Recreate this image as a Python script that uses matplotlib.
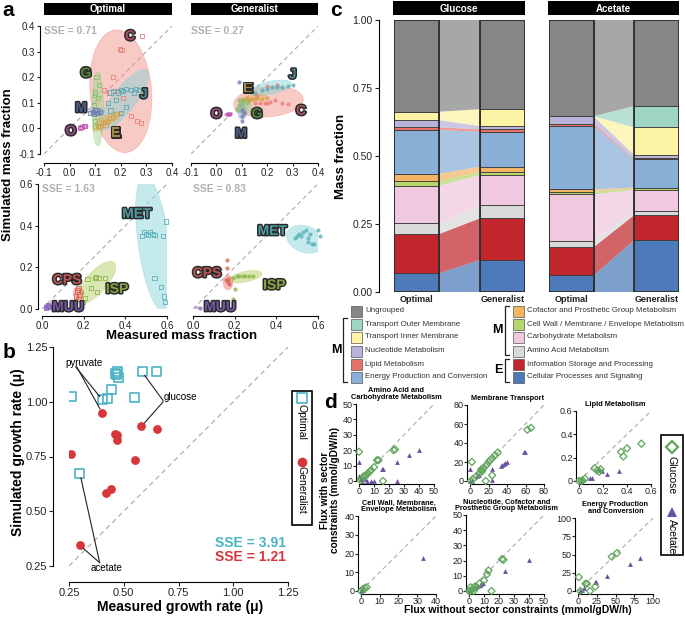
import matplotlib
matplotlib.use('Agg')
import matplotlib.pyplot as plt
import matplotlib.patheffects as pe
from matplotlib.patches import Ellipse, Rectangle, Polygon
from matplotlib.ticker import FormatStrFormatter, FuncFormatter

plt.rcParams['font.family'] = ['Liberation Sans', 'DejaVu Sans']
plt.rcParams['axes.linewidth'] = 0.8
plt.rcParams['xtick.major.width'] = 0.8
plt.rcParams['ytick.major.width'] = 0.8
plt.rcParams['xtick.color'] = '#222222'
plt.rcParams['ytick.color'] = '#222222'

# ---------------- data ----------------
# panel a: sector mass fractions (measured, simulated) per group
a_opt_top = {
    'C': ([0.283, 0.197, 0.203, 0.17, 0.134, 0.155, 0.185, 0.24, 0.262, 0.28, 0.21],
          [0.361, 0.31, 0.305, 0.2, 0.15, 0.14, 0.145, 0.048, 0.03, 0.02, 0.12]),
    'J': ([0.16, 0.17, 0.19, 0.2, 0.21, 0.22, 0.24, 0.26, 0.27, 0.15, 0.18, 0.2, 0.22, 0.16, 0.25],
          [0.14, 0.145, 0.14, 0.15, 0.145, 0.155, 0.15, 0.155, 0.15, 0.1, 0.11, 0.06, 0.085, 0.07, 0.14]),
    'G': ([0.105, 0.1, 0.1, 0.11, 0.09, 0.1, 0.1, 0.115, 0.095],
          [0.2, 0.14, 0.13, 0.12, 0.06, 0.03, 0.01, 0.17, 0.09]),
    'M': ([0.08, 0.09, 0.1, 0.11, 0.12, 0.095, 0.105],
          [0.06, 0.065, 0.07, 0.06, 0.065, 0.055, 0.07]),
    'E': ([0.1, 0.11, 0.12, 0.13, 0.14, 0.15, 0.16, 0.17, 0.18, 0.12, 0.14],
          [0.0, 0.01, 0.01, 0.02, 0.025, 0.03, 0.04, 0.045, 0.055, 0.005, 0.015]),
    'O': ([0.04, 0.045, 0.05, 0.055, 0.06], [0.0, 0.005, 0.005, 0.01, 0.01]),
}
a_gen_top = {
    'C': ([0.13, 0.15, 0.17, 0.19, 0.2, 0.21, 0.23, 0.26, 0.28, 0.16, 0.2, 0.24],
          [0.11, 0.1, 0.1, 0.1, 0.1, 0.105, 0.11, 0.1, 0.095, 0.125, 0.165, 0.17]),
    'J': ([0.15, 0.2, 0.22, 0.24, 0.26, 0.28, 0.3, 0.18],
          [0.14, 0.155, 0.16, 0.16, 0.16, 0.165, 0.17, 0.15]),
    'E': ([0.1, 0.12, 0.14, 0.16, 0.18, 0.2, 0.13, 0.15],
          [0.11, 0.12, 0.115, 0.12, 0.115, 0.12, 0.11, 0.12]),
    'G': ([0.08, 0.09, 0.1, 0.11, 0.12, 0.1, 0.09],
          [0.07, 0.09, 0.1, 0.11, 0.1, 0.08, 0.11]),
    'M': ([0.1, 0.1, 0.11, 0.1, 0.09], [0.03, 0.05, 0.06, 0.07, 0.18]),
    'O': ([0.04, 0.045, 0.05, 0.055], [0.055, 0.055, 0.055, 0.055]),
}
a_opt_bot = {
    'MET': ([0.48, 0.49, 0.50, 0.51, 0.52, 0.53, 0.54, 0.58, 0.595, 0.54, 0.57, 0.585, 0.59],
            [0.35, 0.37, 0.36, 0.355, 0.37, 0.36, 0.355, 0.35, 0.42, 0.15, 0.105, 0.06, 0.035]),
    'ISP': ([0.218, 0.253, 0.261, 0.274, 0.301, 0.189, 0.237, 0.264, 0.205, 0.197],
            [0.143, 0.147, 0.155, 0.15, 0.147, 0.083, 0.102, 0.083, 0.054, 0.032]),
    'CPS': ([0.165, 0.17, 0.175, 0.18, 0.17, 0.175], [0.06, 0.08, 0.1, 0.07, 0.09, 0.05]),
    'MUU': ([0.02, 0.025, 0.03, 0.035, 0.03], [0.005, 0.01, 0.015, 0.01, 0.02]),
}
a_gen_bot = {
    'MET': ([0.49, 0.5, 0.51, 0.52, 0.53, 0.54, 0.55, 0.56, 0.57, 0.58, 0.6, 0.61, 0.55],
            [0.34, 0.35, 0.36, 0.35, 0.37, 0.38, 0.32, 0.36, 0.31, 0.31, 0.38, 0.35, 0.34]),
    'ISP': ([0.19, 0.21, 0.22, 0.24, 0.25, 0.27, 0.29, 0.2, 0.19],
            [0.15, 0.16, 0.16, 0.16, 0.16, 0.16, 0.16, 0.095, 0.048]),
    'CPS': ([0.165, 0.163, 0.16, 0.17, 0.175, 0.168], [0.235, 0.197, 0.14, 0.13, 0.12, 0.145]),
    'MUU': ([0.032], [0.003]),
}
# group ellipses (cx, cy, width, height, angle)
a_opt_top_ell = {'C': (0.2, 0.145, 0.24, 0.48, 5), 'J': (0.213, 0.112, 0.29, 0.09, 52),
                 'G': (0.11, 0.077, 0.046, 0.29, 0), 'M': (0.105, 0.065, 0.06, 0.03, 0),
                 'E': (0.152, 0.037, 0.115, 0.035, 24), 'O': (0.055, 0.008, 0.035, 0.012, 0)}
a_gen_top_ell = {'C': (0.205, 0.104, 0.275, 0.118, 5), 'J': (0.213, 0.159, 0.165, 0.05, 12),
                 'E': (0.142, 0.117, 0.115, 0.025, 8), 'G': (0.11, 0.084, 0.055, 0.06, 0),
                 'M': (0.102, 0.065, 0.035, 0.06, 0), 'O': (0.047, 0.054, 0.03, 0.012, 0)}
a_opt_bot_ell = {'MET': (0.537, 0.315, 0.15, 0.66, 8), 'ISP': (0.26, 0.127, 0.26, 0.1, 48),
                 'CPS': (0.173, 0.075, 0.045, 0.065, 0), 'MUU': (0.028, 0.012, 0.035, 0.03, 0)}
a_gen_bot_ell = {'MET': (0.538, 0.335, 0.184, 0.126, -20), 'ISP': (0.252, 0.155, 0.16, 0.05, 12),
                 'CPS': (0.168, 0.127, 0.045, 0.07, 0), 'MUU': (0.02, 0.005, 0.02, 0.012, 0)}
a_opt_top_lab = {'C': (0.236, 0.361), 'G': (0.064, 0.216), 'J': (0.29, 0.134),
                 'M': (0.045, 0.08), 'O': (0.005, -0.01), 'E': (0.18, -0.018)}
a_gen_top_lab = {'E': (0.125, 0.156), 'J': (0.3, 0.211), 'G': (0.16, 0.057),
                 'C': (0.333, 0.069), 'O': (0.0, 0.057), 'M': (0.097, -0.02)}
a_opt_bot_lab = {'MET': (0.455, 0.457), 'CPS': (0.12, 0.14), 'ISP': (0.36, 0.096), 'MUU': (0.125, 0.01)}
a_gen_bot_lab = {'MET': (0.38, 0.375), 'CPS': (0.067, 0.173), 'ISP': (0.39, 0.115), 'MUU': (0.13, 0.01)}
a_sse = ['SSE = 0.71', 'SSE = 0.27', 'SSE = 1.63', 'SSE = 0.83']

# group colours: point, ellipse, label fill, ellipse alpha
grp_col = {
    'C': ('#ec7f78', '#f08a82', '#b05060', 0.45), 'J': ('#5fa9b2', '#7fcfd5', '#4f8494', 0.45),
    'G': ('#84c06a', '#9ad48a', '#4f8a3c', 0.45), 'M': ('#6f7fb5', '#8a9ad0', '#4d5c8c', 0.45),
    'E': ('#d6a24a', '#e0b050', '#a58a45', 0.45), 'O': ('#c25cb0', '#c86ab8', '#9c4a82', 0.45),
    'MET': ('#5ab3bb', '#9fdce0', '#4e9ba2', 0.6), 'ISP': ('#8fb54a', '#c5dc8a', '#8aa53f', 0.65),
    'CPS': ('#e0605a', '#f08a85', '#c05555', 0.55), 'MUU': ('#8a68c0', '#a080d0', '#7558a5', 0.55),
}

# panel b: growth rates
b_meas_opt = [0.261, 0.403, 0.424, 0.444, 0.462, 0.471, 0.474, 0.466, 0.551, 0.584, 0.651, 0.30]
b_sim_opt = [1.025, 1.008, 1.017, 1.055, 1.128, 1.14, 1.113, 1.125, 1.019, 1.136, 1.136, 0.672]
b_meas_gen = [0.401, 0.581, 0.653, 0.46, 0.471, 0.469, 0.551, 0.261, 0.421, 0.441, 0.30]
b_sim_gen = [0.95, 0.888, 0.877, 0.855, 0.85, 0.824, 0.735, 0.76, 0.583, 0.602, 0.344]

# panel c: sector fractions, bottom to top
c_sectors = ['Cellular Processes and Signaling', 'Information Storage and Processing',
             'Amino Acid Metabolism', 'Carbohydrate Metabolism',
             'Cell Wall / Membrane / Envelope Metabolism', 'Cofactor and Prosthetic Group Metabolism',
             'Energy Production and Conversion', 'Lipid Metabolism', 'Nucleotide Metabolism',
             'Transport Inner Membrane', 'Transport Outer Membrane', 'Ungrouped']
c_colors = ['#4d7bb9', '#c1272d', '#d9d9d9', '#f0c8df', '#b6d56f', '#f3b463',
            '#8aafd6', '#e8726a', '#b9b3da', '#fcf3a4', '#9ed5c5', '#868686']
glc_opt = [0.069, 0.144, 0.039, 0.139, 0.017, 0.026, 0.162, 0.009, 0.027, 0.031, 0.0, 0.337]
glc_gen = [0.118, 0.153, 0.049, 0.110, 0.012, 0.019, 0.128, 0.009, 0.012, 0.062, 0.0, 0.328]
ace_opt = [0.061, 0.104, 0.021, 0.173, 0.010, 0.008, 0.233, 0.008, 0.028, 0.0, 0.0, 0.354]
ace_gen = [0.191, 0.092, 0.015, 0.077, 0.006, 0.003, 0.104, 0.003, 0.013, 0.101, 0.079, 0.316]

# panel d: flux without vs with sector constraints
d_titles = ['Amino Acid and\nCarbohydrate Metabolism', 'Membrane Transport', 'Lipid Metabolism',
            'Cell Wall, Membrane,\nEnvelope Metabolism', 'Nucleotide, Cofactor and\nProsthetic Group Metabolism',
            'Energy Production\nand Conversion']
d_max = [50, 80, 0.6, 40, 50, 100]
d_ticks = [[0, 10, 20, 30, 40, 50], [0, 20, 40, 60, 80], [0, 0.2, 0.4, 0.6],
           [0, 10, 20, 30, 40], [0, 10, 20, 30, 40, 50], [0, 25, 50, 75, 100]]
d_glc = [
    ([0, 23, 24, 12, 13, 10, 8, 6, 5, 3, 2, 1, 16, 4, 7],
     [19, 20, 20.5, 13.5, 13.5, 9, 7, 5, 4, 3, 1, 0.5, 0, 3, 6]),
    ([1, 3, 7, 10, 12, 14, 15, 13, 18, 20, 22, 24, 27, 30, 17, 24, 2, 62, 66],
     [0, 2, 5, 8, 12, 13, 14, 10, 17, 20, 22, 24, 27, 30, 0, 6, 20, 54, 56]),
    ([0, 0.02, 0.03, 0.05, 0.13, 0.15, 0.17, 0.18, 0.35, 0.37, 0.4, 0.52],
     [0, 0, 0.005, 0.02, 0.11, 0.09, 0.08, 0.1, 0.25, 0.21, 0.28, 0.32]),
    ([0, 1, 2, 3], [0, 1, 1.5, 2]),
    ([0, 1, 2, 3, 4, 5, 3, 7, 10, 12, 13, 22, 23, 15, 1],
     [0, 2.5, 1, 2, 3, 2.5, 0, 5, 7, 11, 13.5, 21, 20.5, 0, 0]),
    ([1, 3, 10, 12, 16, 23, 45, 52], [19, 0, 10, 10, 0, 6, 47, 52]),
]
d_ace = [
    ([0, 40, 33, 25, 16, 15, 25, 5, 3, 1, 2, 8, 10, 0, 4],
     [12.5, 20, 17, 12.5, 8, 7.5, 0, 0, 2, 1, 0, 0, 0, 3, 1]),
    ([0, 24, 24, 33, 35, 37, 38, 40, 58, 59, 8, 10, 2, 0],
     [13, 13, 1, 16, 17, 18, 19, 20, 31, 31, 5, 6, 0, 0]),
    ([0.09, 0.11, 0.17, 0.19, 0.23, 0.33, 0.02], [0.03, 0.03, 0.1, 0.09, 0.06, 0.09, 0.0]),
    ([0, 1, 33, 0.5], [0, 0.5, 17.5, 0.5]),
    ([0, 2, 4, 5, 6, 7, 8, 9, 24, 40], [0, 1, 2, 3, 3.5, 4, 4.5, 5, 13, 20.5]),
    ([2, 5, 8, 23, 24, 39, 69, 83], [0, 2, 4, 12, 13, 21, 37, 45]),
]

# ---------------- figure ----------------
W, H = 685, 617
fig = plt.figure(figsize=(W / 100, H / 100), dpi=100)


def ax_px(x0, y0, x1, y1, **kw):
    return fig.add_axes([x0 / W, 1 - y1 / H, (x1 - x0) / W, (y1 - y0) / H], **kw)


def draw_sectors(ax, pts, ells, labs, filled):
    for g, (cx, cy, w, h, ang) in ells.items():
        ax.add_patch(Ellipse((cx, cy), w, h, angle=ang, facecolor=grp_col[g][1], alpha=grp_col[g][3],
                             edgecolor=grp_col[g][1], lw=0.6, zorder=1))
    for g, (xs, ys) in pts.items():
        if filled:
            ax.scatter(xs, ys, s=9, color=grp_col[g][0], alpha=0.8, lw=0, zorder=2, clip_on=False)
        else:
            ax.scatter(xs, ys, s=9, marker='s', facecolors='none', edgecolors=grp_col[g][0],
                       lw=0.6, zorder=2, clip_on=False)
    for g, (x, y) in labs.items():
        ax.text(x, y, g, ha='center', va='center', fontsize=10, fontweight='bold',
                color=grp_col[g][2], zorder=4,
                path_effects=[pe.withStroke(linewidth=2.2, foreground='#2b2b2b')])


a_axes = [
    (ax_px(44, 26, 172, 154), a_opt_top, a_opt_top_ell, a_opt_top_lab, False, (-0.1, 0.4), True, 6.5),
    (ax_px(191, 26, 318, 154), a_gen_top, a_gen_top_ell, a_gen_top_lab, True, (-0.1, 0.4), False, 6.5),
    (ax_px(42, 184, 167, 309), a_opt_bot, a_opt_bot_ell, a_opt_bot_lab, False, (0, 0.6), True, 5),
    (ax_px(193, 184, 318, 309), a_gen_bot, a_gen_bot_ell, a_gen_bot_lab, True, (0, 0.6), False, 5),
]
for i, (ax, pts, ells, labs, filled, lim, left, off) in enumerate(a_axes):
    ax.set_xlim(lim)
    ax.set_ylim(lim)
    ax.plot(lim, lim, ls=(0, (4, 3)), color='#aaaaaa', lw=0.8, zorder=0)
    draw_sectors(ax, pts, ells, labs, filled)
    ax.text(lim[0], lim[1] - 0.04 * (lim[1] - lim[0]), a_sse[i], ha='left', va='center',
            fontsize=7.5, fontweight='bold', color='#b0b0b0')
    ticks = [round(v, 1) for v in
             ([-0.1, 0.0, 0.1, 0.2, 0.3, 0.4] if lim[0] < 0 else [0.0, 0.2, 0.4, 0.6])]
    ax.set_xticks(ticks)
    ax.set_yticks(ticks)
    ax.xaxis.set_major_formatter(FormatStrFormatter('%.1f'))
    ax.yaxis.set_major_formatter(FormatStrFormatter('%.1f'))
    ax.tick_params(labelsize=7, length=2.5, pad=1)
    for s in ['top', 'right']:
        ax.spines[s].set_visible(False)
    ax.spines['bottom'].set_position(('outward', off))
    ax.spines['left'].set_position(('outward', 3))
    ax.spines['bottom'].set_bounds(lim)
    ax.spines['left'].set_bounds(lim)
    if not left:
        ax.spines['left'].set_visible(False)
        ax.tick_params(axis='y', left=False, labelleft=False)
    ax.set_facecolor('none')

# panel b
axb = ax_px(69, 347, 288, 566)
axb.set_xlim(0.25, 1.25)
axb.set_ylim(0.25, 1.25)
axb.plot([0.25, 1.25], [0.25, 1.25], ls=(0, (4, 3)), color='#b0b0b0', lw=0.9, zorder=0)
axb.scatter(b_meas_opt, b_sim_opt, s=42, marker='s', facecolors='none', edgecolors='#4bb3c6', lw=1.2, zorder=3)
axb.scatter(b_meas_gen, b_sim_gen, s=40, color='#d7373a', lw=0, zorder=3)
ann = dict(arrowstyle='-', lw=0.8, color='#222222', shrinkA=0, shrinkB=3)
axb.text(0.32, 1.178, 'pyruvate', ha='center', va='center', fontsize=7)
axb.annotate('', xy=(b_meas_opt[1], b_sim_opt[1]), xytext=(0.28, 1.16), arrowprops=ann)
axb.annotate('', xy=(b_meas_gen[0], b_sim_gen[0]), xytext=(0.285, 1.16), arrowprops=ann)
axb.text(0.757, 1.02, 'glucose', ha='center', va='center', fontsize=7)
axb.annotate('', xy=(b_meas_opt[9], b_sim_opt[9]), xytext=(0.68, 1.005), arrowprops=ann)
axb.annotate('', xy=(b_meas_gen[1], b_sim_gen[1]), xytext=(0.68, 1.0), arrowprops=ann)
axb.text(0.42, 0.242, 'acetate', ha='center', va='center', fontsize=7)
axb.annotate('', xy=(b_meas_opt[11], b_sim_opt[11]), xytext=(0.39, 0.265), arrowprops=ann)
axb.annotate('', xy=(b_meas_gen[10], b_sim_gen[10]), xytext=(0.39, 0.265), arrowprops=ann)
axb.text(1.24, 0.355, 'SSE = 3.91', ha='right', va='center', fontsize=10, fontweight='bold', color='#4bb3c6')
axb.text(1.24, 0.29, 'SSE = 1.21', ha='right', va='center', fontsize=10, fontweight='bold', color='#d7373a')
bt = [0.25, 0.5, 0.75, 1.0, 1.25]
axb.set_xticks(bt)
axb.set_yticks(bt)
axb.xaxis.set_major_formatter(FormatStrFormatter('%.2f'))
axb.yaxis.set_major_formatter(FormatStrFormatter('%.2f'))
axb.tick_params(labelsize=8, length=3, pad=1)
for s in ['top', 'right']:
    axb.spines[s].set_visible(False)
axb.spines['bottom'].set_position(('outward', 11.5))
axb.spines['left'].set_position(('outward', 11.5))
axb.set_facecolor('none')

# panel c
bw = 0.525
for (x0, x1), (opt, gen) in [((394, 525), (glc_opt, glc_gen)), ((549, 679), (ace_opt, ace_gen))]:
    ax = ax_px(x0, 20, x1, 292)
    ax.set_xlim(1 - bw / 2, 2 + bw / 2)
    ax.set_ylim(0, 1)
    b1 = b2 = 0.0
    for k in range(len(c_sectors)):
        t1, t2 = b1 + opt[k], b2 + gen[k]
        if opt[k] > 0 or gen[k] > 0:
            ax.add_patch(Polygon([(1 + bw / 2, b1), (2 - bw / 2, b2), (2 - bw / 2, t2), (1 + bw / 2, t1)],
                                 closed=True, facecolor=c_colors[k], alpha=0.72, lw=0, zorder=1))
        for xc, b, v in [(1, b1, opt[k]), (2, b2, gen[k])]:
            if v > 0:
                ax.bar(xc, v, bottom=b, width=bw, color=c_colors[k], edgecolor='#3a3a3a', lw=0.6, zorder=2)
        b1, b2 = t1, t2
    for xc in [1, 2]:
        ax.add_patch(Rectangle((xc - bw / 2, 0), bw, 1, facecolor='none', edgecolor='#2e2e2e', lw=1.3, zorder=3))
    ax.set_xticks([1, 2])
    ax.set_xticklabels(['Optimal', 'Generalist'], fontsize=6.5, fontweight='bold')
    ax.tick_params(axis='x', length=0, pad=2)
    for s in ['top', 'right', 'bottom']:
        ax.spines[s].set_visible(False)
    if x0 < 500:
        ax.spines['left'].set_position(('outward', 11))
        ax.set_yticks([0, 0.25, 0.5, 0.75, 1.0])
        ax.yaxis.set_major_formatter(FormatStrFormatter('%.2f'))
        ax.tick_params(axis='y', labelsize=7.5, length=3, pad=1.5)
    else:
        ax.spines['left'].set_visible(False)
        ax.set_yticks([])
    ax.set_facecolor('none')

# panel d
d_boxes = [(359, 404, 434, 481), (470, 405, 544, 481), (579, 411, 651, 481),
           (361, 516, 436, 591), (469, 515, 544, 591), (578, 518, 653, 591)]
for i, box in enumerate(d_boxes):
    ax = ax_px(*box)
    m = d_max[i]
    ax.set_xlim(0, m)
    ax.set_ylim(0, m)
    ax.plot([0, m], [0, m], ls=(0, (4, 3)), color='#aaaaaa', lw=0.8, zorder=0)
    ax.scatter(d_ace[i][0], d_ace[i][1], s=12, marker='^', color='#6a52a3', lw=0, zorder=2, clip_on=False)
    ax.scatter(d_glc[i][0], d_glc[i][1], s=13, marker='D', facecolors='none', edgecolors='#5fa55a',
               lw=0.9, zorder=3, clip_on=False)
    ax.set_xticks(d_ticks[i])
    ax.set_yticks(d_ticks[i])
    fmt = FuncFormatter(lambda v, p: '0' if v == 0 else '%g' % v)
    ax.xaxis.set_major_formatter(fmt)
    ax.yaxis.set_major_formatter(fmt)
    ax.tick_params(labelsize=6.5, length=2, pad=0.5)
    for s in ['top', 'right']:
        ax.spines[s].set_visible(False)
    ax.spines['bottom'].set_position(('outward', 2))
    ax.spines['left'].set_position(('outward', 2))
    ax.set_facecolor('none')
    ax.set_title(d_titles[i], fontsize=5.3, fontweight='bold', linespacing=0.95, pad=3.5)

# ---------------- overlay: headers, letters, legends ----------------
ov = fig.add_axes([0, 0, 1, 1], zorder=10)
ov.set_xlim(0, W)
ov.set_ylim(H, 0)
ov.axis('off')

for (x0, y0, x1, y1), t in [((44, 3, 172, 15), 'Optimal'), ((191, 3, 318, 15), 'Generalist'),
                            ((393, 1, 525, 15), 'Glucose'), ((548, 1, 679, 15), 'Acetate')]:
    ov.add_patch(Rectangle((x0, y0), x1 - x0, y1 - y0, color='black', lw=0))
    ov.text((x0 + x1) / 2, (y0 + y1) / 2 + 0.5, t, color='white', fontsize=7, fontweight='bold',
            ha='center', va='center')

for x, y, t in [(8, 10, 'a'), (9, 353, 'b'), (336, 10, 'c'), (331, 403, 'd')]:
    ov.text(x, y, t, fontsize=15, fontweight='bold', ha='center', va='center')

ov.text(8, 165, 'Simulated mass fraction', rotation=90, fontsize=9.5, fontweight='bold', ha='center', va='center')
ov.text(182, 336, 'Measured mass fraction', fontsize=9.5, fontweight='bold', ha='center', va='center')
ov.text(18, 452, 'Simulated growth rate (\u03bc)', rotation=90, fontsize=10, fontweight='bold', ha='center', va='center')
ov.text(180, 607, 'Measured growth rate (\u03bc)', fontsize=10, fontweight='bold', ha='center', va='center')
ov.text(341, 156, 'Mass fraction', rotation=90, fontsize=9.5, fontweight='bold', ha='center', va='center')
ov.text(518, 610, 'Flux without sector constraints (mmol/gDW/h)', fontsize=7.5, fontweight='bold', ha='center', va='center')
ov.text(330, 490, 'Flux with sector\nconstraints (mmol/gDW/h)', rotation=90, fontsize=7.3, fontweight='bold',
        ha='center', va='center', linespacing=1.0)

# legend b
ov.add_patch(Rectangle((292, 391), 20, 134, facecolor='white', edgecolor='black', lw=1.2))
ov.plot(302, 398, marker='s', ms=7, mfc='none', mec='#4bb3c6', mew=1.2)
ov.text(302, 422, 'Optimal', rotation=-90, fontsize=7.5, ha='center', va='center')
ov.plot(302, 462, marker='o', ms=7, color='#d7373a', mew=0)
ov.text(302, 490, 'Generalist', rotation=-90, fontsize=7.5, ha='center', va='center')

# legend d
ov.add_patch(Rectangle((661, 435), 22, 120, facecolor='white', edgecolor='black', lw=1.2))
ov.plot(672, 447, marker='D', ms=6, mfc='none', mec='#5fa55a', mew=1.6)
ov.text(672, 475, 'Glucose', rotation=-90, fontsize=7.5, ha='center', va='center')
ov.plot(672, 512, marker='^', ms=6.5, color='#6a52a3', mew=0)
ov.text(672, 537, 'Acetate', rotation=-90, fontsize=7.5, ha='center', va='center')

# legend c
rows = [311, 324, 337, 351, 364, 377]
left_items = [11, 10, 9, 8, 7, 6]
right_items = [5, 4, 3, 2, 1, 0]
for col_x, items in [(351, left_items), (513, right_items)]:
    for y, k in zip(rows, items):
        ov.add_patch(Rectangle((col_x, y - 5.5), 11, 11, facecolor=c_colors[k], edgecolor='#555555', lw=0.5))
        ov.text(col_x + 14, y, c_sectors[k], fontsize=5.7, color='#333333', ha='left', va='center')
br_kw = dict(color='#222222', lw=0.9)
ov.plot([347, 343, 343, 347], [318, 318, 382, 382], **br_kw)
ov.text(336, 350, 'M', fontsize=9, fontweight='bold', ha='center', va='center')
ov.plot([509, 505, 505, 509], [306, 306, 355, 355], **br_kw)
ov.text(497, 330, 'M', fontsize=9, fontweight='bold', ha='center', va='center')
ov.plot([509, 505, 505, 509], [359, 359, 382, 382], **br_kw)
ov.text(498, 370, 'E', fontsize=9, fontweight='bold', ha='center', va='center')

fig.savefig('out.png', dpi=100)
